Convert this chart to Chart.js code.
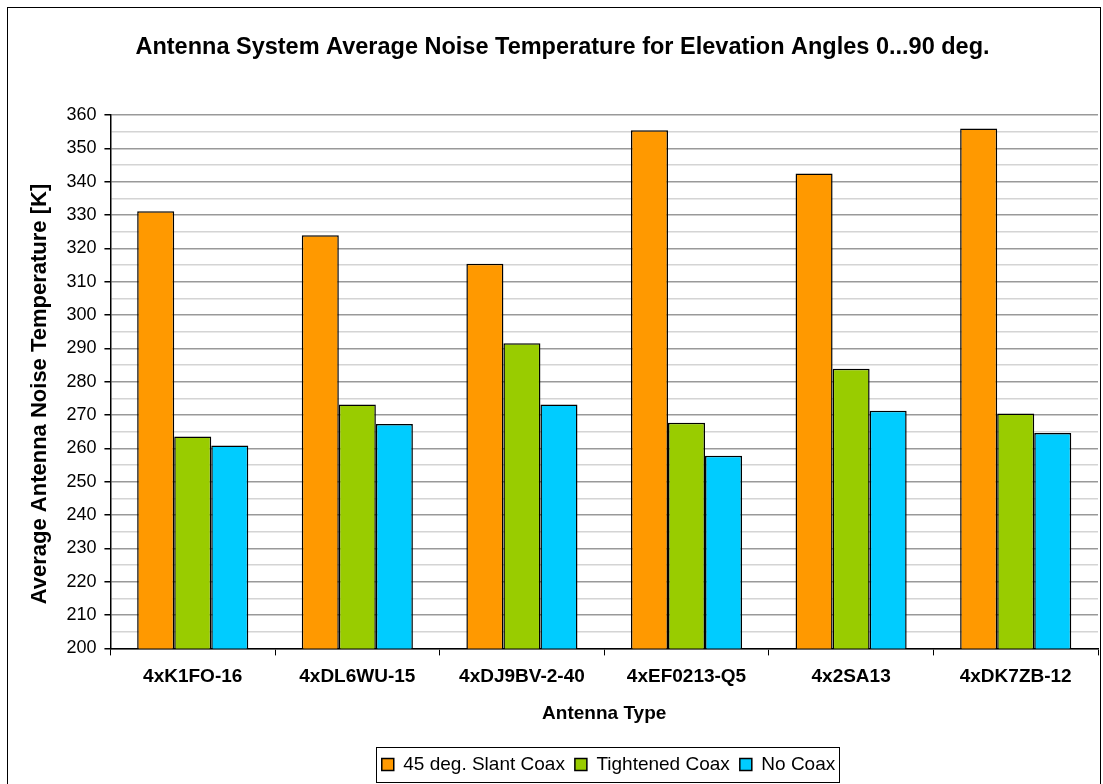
<!DOCTYPE html>
<html>
<head>
<meta charset="utf-8">
<script src="https://cdn.jsdelivr.net/npm/chart.js@4/dist/chart.umd.min.js"></script>
<style>
  html, body { margin: 0; padding: 0; background: #fff; }
  #wrap { width: 1103px; height: 784px; }
</style>
</head>
<body>
<div id="wrap"><canvas id="myChart" width="1103" height="784"></canvas></div>
<script>
// Data
const antennas = ['4xK1FO-16', '4xDL6WU-15', '4xDJ9BV-2-40', '4xEF0213-Q5', '4x2SA13', '4xDK7ZB-12'];
const slantCoax = [331.2, 324.0, 315.4, 355.5, 342.5, 356.0];
const tightenedCoax = [263.6, 273.2, 291.6, 267.7, 283.9, 270.5];
const noCoax = [260.9, 267.3, 273.2, 257.8, 271.3, 264.6];

const FONT = '"Liberation Sans", Arial, sans-serif';

// frame around the whole chart + box around the legend
const framePlugin = {
  id: 'frame',
  afterLayout(chart) {
    // legend in the original sits a bit right of centre
    chart.legend.left += 46;
    chart.legend.right += 46;
  },
  afterDraw(chart) {
    const c = chart.ctx;
    c.save();
    c.strokeStyle = '#000';
    c.lineWidth = 1;
    c.strokeRect(7.5, 7.5, 1093, 800);
    const boxes = chart.legend.legendHitBoxes;
    if (boxes && boxes.length) {
      let l = Infinity, r = -Infinity, t = Infinity, b = -Infinity;
      boxes.forEach(h => {
        l = Math.min(l, h.left); r = Math.max(r, h.left + h.width);
        t = Math.min(t, h.top); b = Math.max(b, h.top + h.height);
      });
      c.strokeStyle = '#000';
      c.strokeRect(Math.round(l - 6) + 0.5, Math.round(t - 8) + 0.5, Math.round(r - l + 10), Math.round(b - t + 16));
    }
    c.restore();
  }
};

const ctx = document.getElementById('myChart').getContext('2d');

new Chart(ctx, {
  type: 'bar',
  data: {
    labels: antennas,
    datasets: [
      {
        label: '45 deg. Slant Coax',
        data: slantCoax,
        backgroundColor: '#FF9900',
        borderColor: '#000',
        borderWidth: 1.5
      },
      {
        label: 'Tightened Coax',
        data: tightenedCoax,
        backgroundColor: '#99CC00',
        borderColor: '#000',
        borderWidth: 1.5
      },
      {
        label: 'No Coax',
        data: noCoax,
        backgroundColor: '#00CCFF',
        borderColor: '#000',
        borderWidth: 1.5
      }
    ]
  },
  options: {
    responsive: false,
    animation: false,
    barPercentage: 1.0,
    categoryPercentage: 0.675,
    layout: { padding: { left: 27, right: 5, top: 0, bottom: 0 } },
    plugins: {
      title: {
        display: true,
        text: 'Antenna System Average Noise Temperature for Elevation Angles 0...90 deg.',
        color: '#000',
        font: { family: FONT, size: 23.5, weight: 'bold' },
        padding: { top: 33, bottom: 54 }
      },
      legend: {
        position: 'bottom',
        labels: {
          color: '#000',
          font: { family: FONT, size: 19 },
          boxWidth: 12,
          boxHeight: 12,
          padding: 10
        }
      },
      tooltip: { enabled: false }
    },
    scales: {
      x: {
        grid: {
          drawOnChartArea: false,
          drawTicks: true,
          tickLength: 7,
          tickColor: '#000',
          offset: true
        },
        border: { color: '#000', width: 1.5 },
        ticks: {
          color: '#000',
          font: { family: FONT, size: 19, weight: 'bold' },
          padding: 10
        },
        title: {
          display: true,
          text: 'Antenna Type',
          color: '#000',
          font: { family: FONT, size: 19, weight: 'bold' },
          padding: { top: 4, bottom: 20 }
        }
      },
      y: {
        min: 200,
        max: 360,
        grid: {
          color: c => (c.tick && c.tick.value % 10 === 0) ? '#999999' : '#d4d4d4',
          lineWidth: 1.5,
          tickLength: 6,
          tickColor: c => (c.tick && c.tick.value % 10 === 0) ? '#000' : 'rgba(0,0,0,0)'
        },
        border: { color: '#000', width: 1.5 },
        ticks: {
          stepSize: 5,
          autoSkip: false,
          color: '#000',
          font: { family: FONT, size: 18 },
          padding: 8,
          callback: v => (v % 10 === 0 ? v : '')
        },
        title: {
          display: true,
          text: 'Average Antenna Noise Temperature [K]    ',
          color: '#000',
          font: { family: FONT, size: 22, weight: 'bold' },
          padding: { top: 0, bottom: 5 }
        }
      }
    }
  },
  plugins: [framePlugin]
});
</script>
</body>
</html>
